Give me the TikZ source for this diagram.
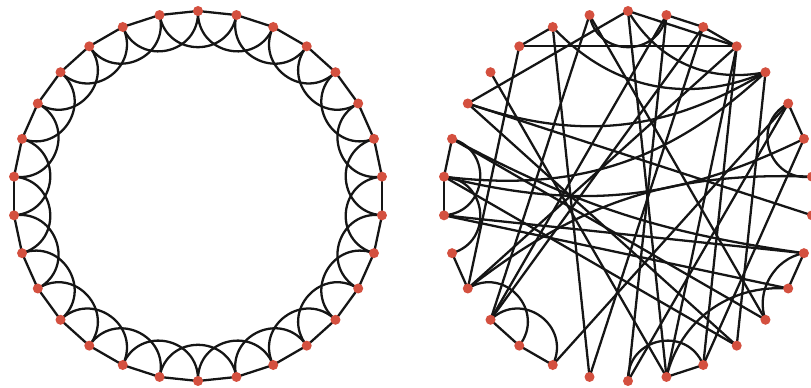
\documentclass[tikz,border=0pt]{standalone}
\usepackage{tikz}
\usetikzlibrary{arrows.meta,calc,positioning}
\definecolor{ink}{HTML}{151515}
\definecolor{dotred}{HTML}{D4503F}
\tikzset{link/.style={draw=ink,line width=.65pt},hop/.style={link,bend right=80,looseness=1.45},dot/.style={circle,fill=dotred,inner sep=0pt,minimum size=.1cm}}

\begin{document}
\begin{tikzpicture}[x=.01cm,y=.01cm]
\useasboundingbox (0,0) rectangle (811,388); \clip (0,0) rectangle (811,388);
\foreach \i in {0,...,29}{\coordinate (l\i) at ({198+185*sin(12*\i)},{192+185*cos(12*\i)}); \coordinate (r\i) at ({628+185*sin(12*\i)},{192+185*cos(12*\i)});}
% regular ring
\foreach \i in {0,...,29}{\pgfmathtruncatemacro\j{mod(\i+1,30)}\pgfmathtruncatemacro\k{mod(\i+2,30)}
 \draw[link] (l\i) -- (l\j); \draw[hop] (l\i) to (l\k);}
% rewired ring
\foreach \a/\b/\t in {27/3/0,27/28/0,1/2/0,2/3/0,0/3/0,28/16/0,29/11/0,29/19/0,27/20/0,26/14/0,25/0/0,25/8/0,22/9/0,22/10/0,23/22/0,24/23/0,21/20/0,19/18/0,18/17/0,14/13/0,10/9/0,5/6/0,4/12/0,3/14/0,3/20/0,1/15/0,1/19/0,23/12/0,24/11/0,16/2/0,19/2/0,5/17/0,5/15/0,6/13/0,25/12/0,0/14/0,3/13/0,0/4/35,28/4/35,25/4/25,23/4/25,10/14/40,9/11/50,7/20/20,23/6/20,24/9/10}
 \draw[link] (r\a) to[bend right=\t] (r\b);
\foreach \a/\b in {29/1,5/7,22/24,21/23,13/15,17/19,18/20} \draw[hop] (r\a) to (r\b);
\foreach \i in {0,...,29}{\node[dot] (dl\i) at (l\i) {}; \node[dot] (dr\i) at (r\i) {};}
\end{tikzpicture}
\end{document}
